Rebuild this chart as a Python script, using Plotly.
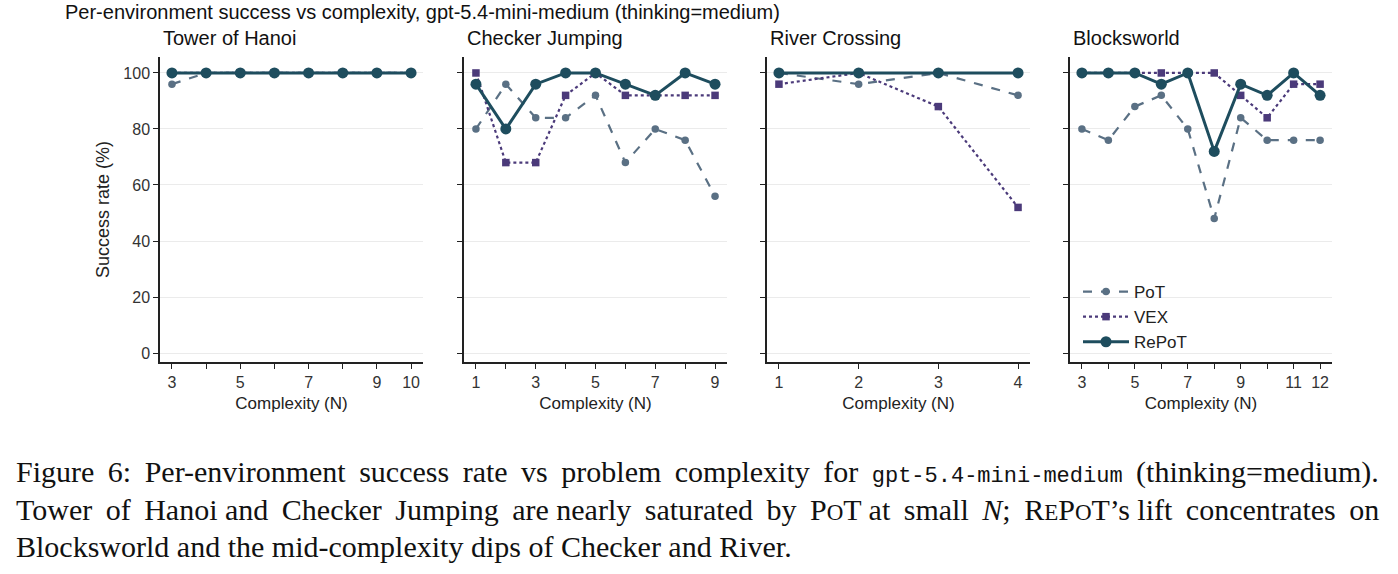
import plotly.graph_objects as go

W, H = 1398, 574

# ---------------- data ----------------
panel_titles = ["Tower of Hanoi", "Checker Jumping", "River Crossing", "Blocksworld"]

hanoi_n = [3, 4, 5, 6, 7, 8, 9, 10]
hanoi_pot = [96, 100, 100, 100, 100, 100, 100, 100]
hanoi_vex = [100, 100, 100, 100, 100, 100, 100, 100]
hanoi_repot = [100, 100, 100, 100, 100, 100, 100, 100]
hanoi_ticklabels = ["3", "", "5", "", "7", "", "9", "10"]

checker_n = [1, 2, 3, 4, 5, 6, 7, 8, 9]
checker_pot = [80, 96, 84, 84, 92, 68, 80, 76, 56]
checker_vex = [100, 68, 68, 92, 100, 92, 92, 92, 92]
checker_repot = [96, 80, 96, 100, 100, 96, 92, 100, 96]
checker_ticklabels = ["1", "", "3", "", "5", "", "7", "", "9"]

river_n = [1, 2, 3, 4]
river_pot = [100, 96, 100, 92]
river_vex = [96, 100, 88, 52]
river_repot = [100, 100, 100, 100]
river_ticklabels = ["1", "2", "3", "4"]

blocks_n = [3, 4, 5, 6, 7, 8, 9, 10, 11, 12]
blocks_pot = [80, 76, 88, 92, 80, 48, 84, 76, 76, 76]
blocks_vex = [100, 100, 100, 100, 100, 100, 92, 84, 96, 96]
blocks_repot = [100, 100, 100, 96, 100, 72, 96, 92, 100, 92]
blocks_ticklabels = ["3", "", "5", "", "7", "", "9", "", "11", "12"]

y_ticks = [0, 20, 40, 60, 80, 100]

panels = [
    (hanoi_n, hanoi_pot, hanoi_vex, hanoi_repot, hanoi_ticklabels),
    (checker_n, checker_pot, checker_vex, checker_repot, checker_ticklabels),
    (river_n, river_pot, river_vex, river_repot, river_ticklabels),
    (blocks_n, blocks_pot, blocks_vex, blocks_repot, blocks_ticklabels),
]

# ---------------- style ----------------
C_POT = "#5a7084"
C_VEX = "#4b3a7a"
C_REPOT = "#1e4d5e"
FONT = "Liberation Sans, Arial, Helvetica, sans-serif"
SERIF = "Liberation Serif, Times New Roman, serif"
MONO = "Liberation Mono, DejaVu Sans Mono, monospace"
AX = "#222222"

x_px = [(160, 423), (464, 727), (767, 1030), (1070, 1332)]
y_top, y_bot = 57, 362

fig = go.Figure()

for i, (n, pot, vex, rep, tl) in enumerate(panels):
    xa = "x" if i == 0 else f"x{i+1}"
    ya = "y" if i == 0 else f"y{i+1}"
    show = i == 3
    fig.add_trace(go.Scatter(
        x=n, y=pot, mode="lines+markers", name="PoT", showlegend=show,
        legendgroup="pot", xaxis=xa, yaxis=ya,
        line=dict(color=C_POT, width=2.2, dash="dash"),
        marker=dict(symbol="circle", size=7.5, color=C_POT)))
    fig.add_trace(go.Scatter(
        x=n, y=vex, mode="lines+markers", name="VEX", showlegend=show,
        legendgroup="vex", xaxis=xa, yaxis=ya,
        line=dict(color=C_VEX, width=2.2, dash="dot"),
        marker=dict(symbol="square", size=7.5, color=C_VEX)))
    fig.add_trace(go.Scatter(
        x=n, y=rep, mode="lines+markers", name="RePoT", showlegend=show,
        legendgroup="repot", xaxis=xa, yaxis=ya,
        line=dict(color=C_REPOT, width=3),
        marker=dict(symbol="circle", size=11, color=C_REPOT)))

    span = n[-1] - n[0]
    pad = 0.05 * span
    xd = [x_px[i][0] / W, x_px[i][1] / W]
    yd = [1 - y_bot / H, 1 - y_top / H]
    xkey = "xaxis" if i == 0 else f"xaxis{i+1}"
    ykey = "yaxis" if i == 0 else f"yaxis{i+1}"
    fig.layout[xkey] = dict(
        domain=xd, anchor=ya, range=[n[0] - pad, n[-1] + pad],
        tickmode="array", tickvals=n, ticktext=tl,
        showline=True, linecolor=AX, linewidth=1.5, mirror=False,
        ticks="outside", ticklen=5, tickwidth=1.3, tickcolor=AX,
        showgrid=False, zeroline=False,
        tickfont=dict(family=FONT, size=16, color="#333"),
        title=dict(text="Complexity (N)", font=dict(family=FONT, size=17, color="#222"), standoff=7),
    )
    fig.layout[ykey] = dict(
        domain=yd, anchor=xa, range=[-3.2, 105.7],
        tickmode="array", tickvals=y_ticks,
        showticklabels=(i == 0),
        showline=True, linecolor=AX, linewidth=1.5,
        ticks="outside", ticklen=5, tickwidth=1.3, tickcolor=AX,
        showgrid=True, gridcolor="#ebebeb", gridwidth=1, zeroline=False,
        tickfont=dict(family=FONT, size=16, color="#333"),
        title=dict(text="Success rate (%)" if i == 0 else "",
                   font=dict(family=FONT, size=18, color="#222"), standoff=9),
    )

annotations = []
annotations.append(dict(
    text="Per-environment success vs complexity, gpt-5.4-mini-medium (thinking=medium)",
    x=63 / W, y=1 - 12 / H, xref="paper", yref="paper", xanchor="left", yanchor="middle",
    showarrow=False, font=dict(family=FONT, size=20, color="#111")))
for i, t in enumerate(panel_titles):
    annotations.append(dict(
        text=t, x=(x_px[i][0] + 1) / W, y=1 - 38 / H, xref="paper", yref="paper",
        xanchor="left", yanchor="middle", showarrow=False,
        font=dict(family=FONT, size=20, color="#111")))

# caption (serif, with small caps imitated by a smaller font size)
TS = "\u2009"  # thin space, used to approximate the justified caption lines
sc = 'style="font-size:23px"'


def justify(words, extra):
    """join words with a normal space plus `extra[i]` thin spaces in gap i"""
    out = words[0]
    for k, w in enumerate(words[1:]):
        out += " " + TS * extra[k] + w
    return out


words1 = ["Figure", "6:", "Per-environment", "success", "rate", "vs", "problem", "complexity", "for",
          f'<span style="font-family:{MONO};font-size:22px">gpt-5.4-mini-medium</span>',
          "(thinking=medium)."]
words2 = ["Tower", "of", "Hanoi", "and", "Checker", "Jumping", "are", "nearly", "saturated", "by",
          f"P<span {sc}>O</span>T", "at", "small", "<i>N</i>;",
          f"R<span {sc}>E</span>P<span {sc}>O</span>T’s", "lift", "concentrates", "on"]
line3 = "Blocksworld and the mid-complexity dips of Checker and River."
line1 = justify(words1, [1, 1, 1, 1, 1, 1, 1, 1, 1, 1])
line2 = justify(words2, [1, 1, 0, 1, 1, 1, 0, 1, 1, 1, 0, 1, 1, 1, 0, 1, 1])
cap_lines = [line1, line2, line3]
cap_y = [472, 509, 546]
for line, yy in zip(cap_lines, cap_y):
    annotations.append(dict(
        text=line, x=14 / W, y=1 - yy / H, xref="paper", yref="paper",
        xanchor="left", yanchor="middle", showarrow=False,
        font=dict(family=SERIF, size=30, color="#111")))

fig.update_layout(
    width=W, height=H,
    margin=dict(l=0, r=0, t=0, b=0),
    paper_bgcolor="white", plot_bgcolor="white",
    annotations=annotations,
    legend=dict(x=1078 / W, y=1 - 274 / H, xanchor="left", yanchor="top",
                bgcolor="rgba(0,0,0,0)", font=dict(family=FONT, size=17, color="#222"),
                tracegroupgap=0, itemwidth=46),
    showlegend=True,
)

fig.write_html("out.html")
